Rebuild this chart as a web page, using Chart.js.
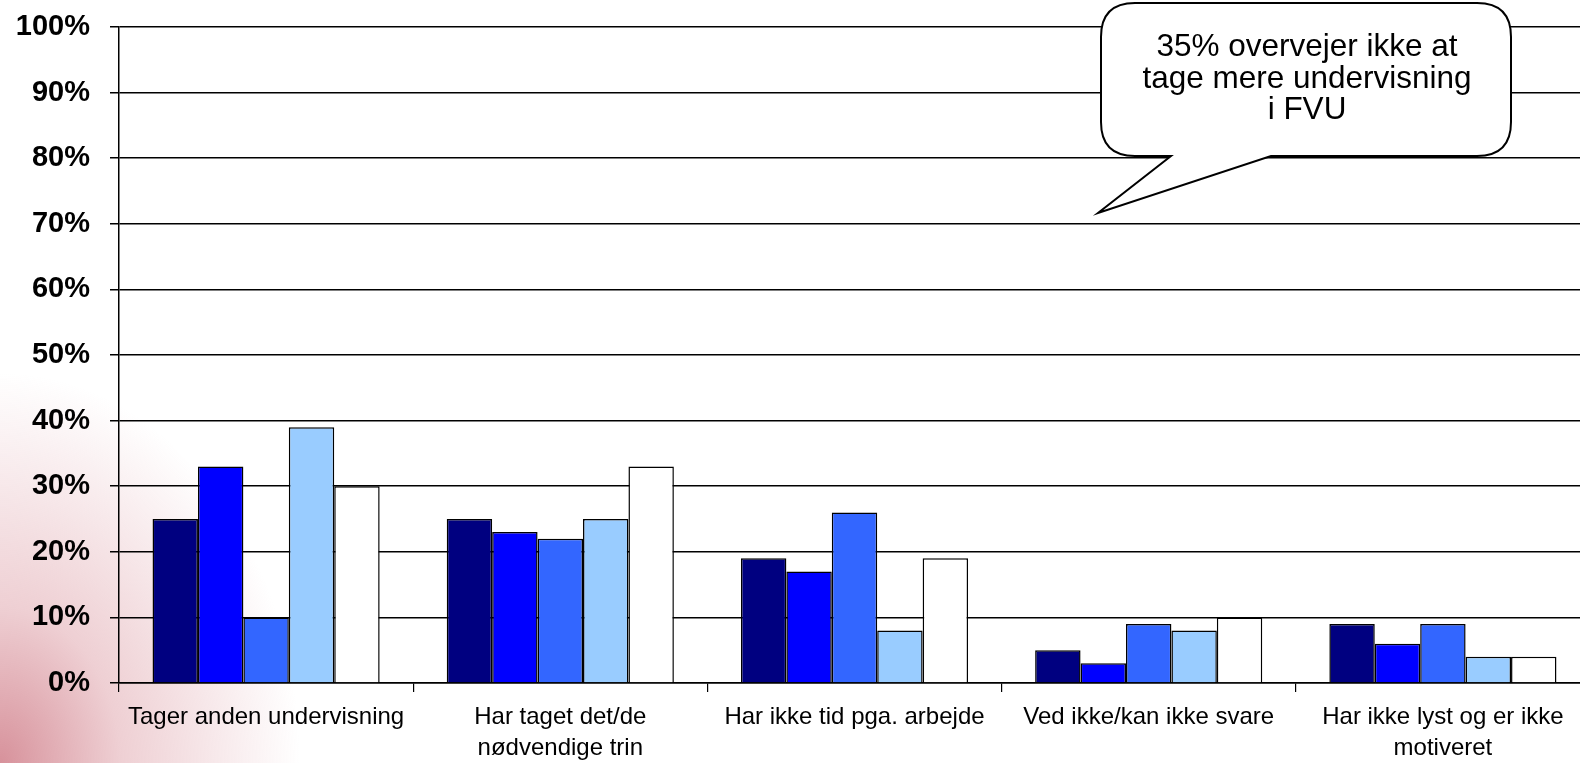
<!DOCTYPE html>
<html><head><meta charset="utf-8">
<script src="https://cdn.jsdelivr.net/npm/chart.js@4/dist/chart.umd.min.js"></script>
<style>
html,body{margin:0;padding:0;width:1580px;height:763px;overflow:hidden;}
body{background: radial-gradient(ellipse 300px 390px at 0% 100%, rgba(205,118,130,0.8) 0%, rgba(222,160,168,0.5) 40%, rgba(255,255,255,0) 100%), #ffffff;}
#wrap{position:absolute;left:0;top:0;width:1600px;height:763px;}
</style></head><body>
<div id="wrap"><canvas id="c" width="1600" height="763"></canvas></div>
<script>
const categories = [
  'Tager anden undervisning',
  ['Har taget det/de', 'nødvendige trin'],
  'Har ikke tid pga. arbejde',
  'Ved ikke/kan ikke svare',
  ['Har ikke lyst og er ikke', 'motiveret']
];
const seriesNames = ['Serie 1', 'Serie 2', 'Serie 3', 'Serie 4', 'Serie 5'];
const serie1 = [25, 25, 19, 5, 9];
const serie2 = [33, 23, 17, 3, 6];
const serie3 = [10, 22, 26, 9, 9];
const serie4 = [39, 25, 8, 8, 4];
const serie5 = [30, 33, 19, 10, 4];
const seriesColors = ['#000080', '#0000FF', '#3366FF', '#99CCFF', '#FFFFFF'];
const yTickLabels = ['0%','10%','20%','30%','40%','50%','60%','70%','80%','90%','100%'];
const calloutLines = ['35% overvejer ikke at', 'tage mere undervisning', 'i FVU'];

const allSeries = [serie1, serie2, serie3, serie4, serie5];

const calloutPlugin = {
  id: 'callout',
  afterDraw(chart) {
    const ctx = chart.ctx;
    const L = 1101, R = 1511, T = 3, B = 156, r = 34;
    ctx.save();
    ctx.beginPath();
    ctx.moveTo(L + r, T);
    ctx.lineTo(R - r, T);
    ctx.quadraticCurveTo(R, T, R, T + r);
    ctx.lineTo(R, B - r);
    ctx.quadraticCurveTo(R, B, R - r, B);
    ctx.lineTo(1271, B);
    ctx.lineTo(1098, 213);
    ctx.lineTo(1171, B);
    ctx.lineTo(L + r, B);
    ctx.quadraticCurveTo(L, B, L, B - r);
    ctx.lineTo(L, T + r);
    ctx.quadraticCurveTo(L, T, L + r, T);
    ctx.closePath();
    ctx.fillStyle = '#ffffff';
    ctx.fill();
    ctx.lineWidth = 2;
    ctx.strokeStyle = '#000000';
    ctx.stroke();
    ctx.fillStyle = '#000000';
    ctx.font = '31.5px "Liberation Sans", Arial, sans-serif';
    ctx.textAlign = 'center';
    ctx.textBaseline = 'middle';
    const ys = [47, 79, 110];
    calloutLines.forEach((t, i) => ctx.fillText(t, 1307, ys[i]));
    ctx.restore();
  }
};

new Chart(document.getElementById('c'), {
  type: 'bar',
  data: {
    labels: categories,
    datasets: allSeries.map((d, i) => ({
      label: seriesNames[i],
      data: d,
      backgroundColor: seriesColors[i],
      borderColor: '#000000',
      borderWidth: 1.5,
      categoryPercentage: 0.772,
      barPercentage: 1.0
    }))
  },
  options: {
    responsive: false,
    animation: false,
    devicePixelRatio: 1,
    layout: { padding: { top: 27, right: 10, left: 0, bottom: 0 } },
    plugins: { legend: { display: false }, tooltip: { enabled: false } },
    scales: {
      x: {
        grid: { offset: true, drawOnChartArea: false, drawTicks: true, tickLength: 9, color: '#000', lineWidth: 1.2 },
        border: { display: true, color: '#000', width: 1.5 },
        ticks: {
          color: '#000',
          font: { family: '"Liberation Sans", Arial, sans-serif', size: 24, lineHeight: 1.3 },
          padding: 10, maxRotation: 0, autoSkip: false
        },
        afterFit(s) { s.height = 80; s.paddingLeft = 0; s.paddingRight = 0; }
      },
      y: {
        min: 0, max: 100,
        ticks: {
          stepSize: 10,
          color: '#000',
          padding: 20,
          font: { family: '"Liberation Sans", Arial, sans-serif', size: 29, weight: 'bold' },
          callback: (v) => yTickLabels[Math.round(v / 10)]
        },
        grid: { color: '#000', lineWidth: 1.5, tickLength: 9, drawTicks: true },
        border: { display: true, color: '#000', width: 1.5 },
        afterFit(s) { s.width = 119; s.paddingTop = 0; s.paddingBottom = 0; }
      }
    }
  },
  plugins: [calloutPlugin]
});
</script>
</body></html>
